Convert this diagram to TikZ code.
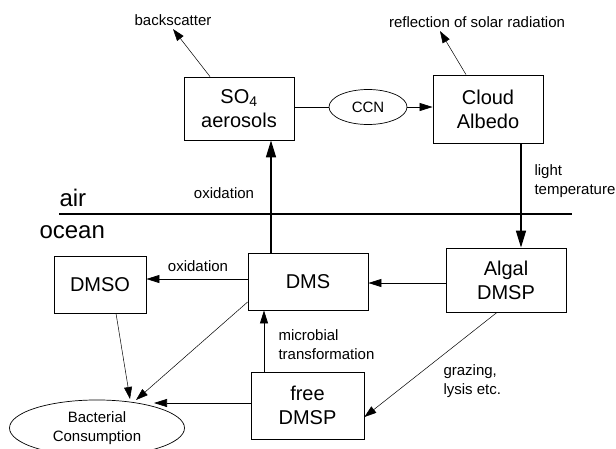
\documentclass[tikz,border=0pt]{standalone}
\usepackage{fontspec}
\setmainfont{Liberation Sans}
\usetikzlibrary{arrows.meta,shapes.geometric}

\begin{document}
\begin{tikzpicture}[x=1pt, y=-1pt,
    box/.style={draw, rectangle, align=center, line width=0.8pt, font=\fontsize{20}{24}\selectfont},
    lbl/.style={align=left, font=\fontsize{15}{19}\selectfont},
    thinarrow/.style={-{Triangle[length=12pt,width=8pt]}, line width=0.5pt},
    medarrow/.style={-{Triangle[length=13pt,width=8pt]}, line width=0.7pt},
    bigarrow/.style={-{Triangle[length=17pt,width=10pt]}, line width=1.5pt}]
    \useasboundingbox (0, 0) rectangle (616, 448);

    % air side
    \node [box, minimum width=110, minimum height=63] (so4) at (239, 108.5) {SO\textsubscript{4}\\aerosols};
    \node [draw, ellipse, line width=0.7pt, minimum width=78, minimum height=35, font=\fontsize{15}{18}\selectfont] (ccn) at (368, 107) {CCN};
    \node [box, minimum width=110, minimum height=68] (cloud) at (488, 109) {Cloud\\Albedo};
    \node [lbl] (back) at (173, 20) {backscatter};
    \node [lbl] (refl) at (477, 22) {reflection of solar radiation};

    % ocean side
    \node [box, minimum width=120, minimum height=64] (algal) at (506, 280) {Algal\\DMSP};
    \node [box, minimum width=120, minimum height=57] (dms) at (308, 281.5) {DMS};
    \node [box, minimum width=92, minimum height=57] (dmso) at (100, 284.5) {DMSO};
    \node [box, minimum width=113, minimum height=67] (free) at (307.5, 405.5) {free\\DMSP};
    \node [draw, ellipse, line width=0.7pt, minimum width=175, minimum height=52, align=center, font=\fontsize{15}{19}\selectfont] (bact) at (97, 428) {Bacterial\\Consumption};

    % labels
    \node [anchor=west, font=\fontsize{24}{26}\selectfont] (air) at (56, 198) {air};
    \node [anchor=west, font=\fontsize{24}{26}\selectfont] (ocean) at (36, 232) {ocean};
    \node [lbl] (oxup) at (224, 193) {oxidation};
    \node [lbl] (oxlow) at (198, 266) {oxidation};
    \node [lbl, anchor=west] (light) at (531, 181) {light\\temperature};
    \node [lbl, anchor=west] (micro) at (275, 345) {microbial\\transformation};
    \node [lbl, anchor=west] (graz) at (440, 381) {grazing,\\lysis etc.};

    % sea surface
    \draw [line width=1.6pt] (59, 214) -- (572, 214);

    \coordinate (upx) at (271, 0);
    \coordinate (downx) at (521, 0);
    \coordinate (freex) at (264, 0);
    \coordinate (b1) at (130, 399);
    \coordinate (b2) at (136, 400);
    \coordinate (b3) at (154, 403);

    \draw [bigarrow] (dms.north -| upx) -- (so4.south -| upx);
    \draw [bigarrow] (cloud.south -| downx) -- (algal.north -| downx);
    \draw [line width=0.8pt] (so4.east |- ccn.west) -- (ccn.west);
    \draw [medarrow] (ccn.east) -- (ccn.east -| cloud.west);
    \draw [thinarrow] ([xshift=-29]so4.north) -- (back.south);
    \draw [thinarrow] ([xshift=-22]cloud.north) -- ([xshift=-37]refl.south);

    \draw [medarrow] (algal.west |- 0, 283) -- (dms.east |- 0, 283);
    \draw [medarrow] (dms.west |- 0, 279) -- (dmso.east |- 0, 279);
    \draw [medarrow] (free.north -| freex) -- (dms.south -| freex);
    \draw [thinarrow] ([xshift=-9]algal.south) -- (free.east |- 0, 417);
    \draw [thinarrow] ([xshift=16]dmso.south) -- (b1);
    \draw [thinarrow] (dms.west |- 0, 302) -- (b2);
    \draw [medarrow] (free.west |- 0, 403) -- (b3);

\end{tikzpicture}
\end{document}
